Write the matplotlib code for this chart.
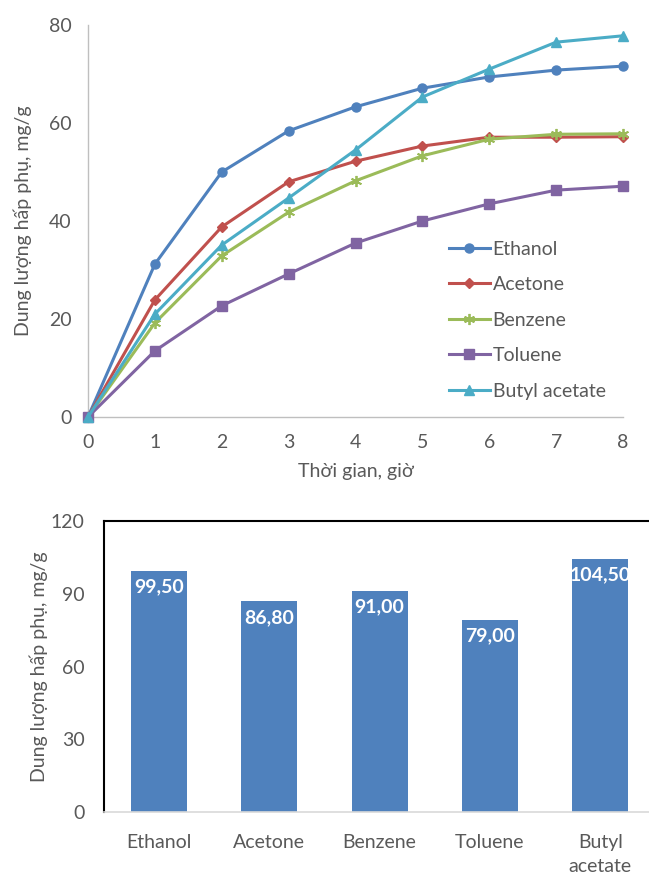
import matplotlib
matplotlib.use('Agg')
import matplotlib.pyplot as plt

plt.rcParams['font.family'] = ['Lato', 'Open Sans', 'DejaVu Sans']

# thoi gian (gio)
t = [0, 1, 2, 3, 4, 5, 6, 7, 8]
ethanol = [0, 31.2, 50.0, 58.4, 63.3, 67.1, 69.4, 70.8, 71.6]
acetone = [0, 23.9, 38.8, 48.0, 52.2, 55.3, 57.1, 57.1, 57.2]
benzene = [0, 19.2, 32.9, 41.8, 48.2, 53.3, 56.7, 57.7, 57.8]
toluene = [0, 13.5, 22.7, 29.2, 35.5, 40.0, 43.5, 46.3, 47.1]
butyl = [0, 21.0, 35.1, 44.7, 54.5, 65.3, 71.0, 76.5, 77.8]

dung_moi = ['Ethanol', 'Acetone', 'Benzene', 'Toluene', 'Butyl\nacetate']
dung_luong = [99.50, 86.80, 91.00, 79.00, 104.50]

text_color = '#595959'
axis_color = '#BFBFBF'

fig = plt.figure(figsize=(6.49, 8.77), dpi=100)

# ------------ do thi dong hoc hap phu ------------
ax1 = fig.add_axes([0.1356, 0.5245, 0.8244, 0.447])
series = [
    (ethanol, 'Ethanol', '#4F81BD', 'o', 6.5),
    (acetone, 'Acetone', '#C0504D', 'D', 5.5),
    (benzene, 'Benzene', '#9BBB59', (6, 2, 0), 8),
    (toluene, 'Toluene', '#8064A2', 's', 6.5),
    (butyl, 'Butyl acetate', '#4BACC6', '^', 7.5),
]
for y, lab, c, m, ms in series:
    ax1.plot(t, y, color=c, marker=m, markersize=ms, linewidth=2.2, label=lab,
             markeredgewidth=1.3 if m == (6, 2, 0) else 1, clip_on=False, zorder=3)

ax1.set_xlim(0, 8)
ax1.set_ylim(0, 80)
ax1.set_yticks([0, 20, 40, 60, 80])
ax1.set_xticks(t)
for s in ['top', 'right']:
    ax1.spines[s].set_visible(False)
for s in ['left', 'bottom']:
    ax1.spines[s].set_color(axis_color)
    ax1.spines[s].set_linewidth(1)
ax1.tick_params(length=0, labelsize=14, colors=text_color)
ax1.tick_params(axis='y', pad=12)
ax1.tick_params(axis='x', pad=12)
ax1.set_xlabel('Thời gian, giờ', fontsize=14, color=text_color, labelpad=9)
ax1.set_ylabel('Dung lượng hấp phụ, mg/g', fontsize=14, color=text_color, labelpad=12)
leg = ax1.legend(loc='lower right', bbox_to_anchor=(1.0, 0.0), frameon=False,
                 fontsize=14, handlelength=2.1, handletextpad=0.15, labelspacing=0.95)
for txt in leg.get_texts():
    txt.set_color(text_color)

# ------------ do thi dung luong hap phu cuc dai ------------
ax2 = fig.add_axes([0.160, 0.074, 0.85, 0.332])
x = range(len(dung_moi))
bars = ax2.bar(x, dung_luong, width=0.51, color='#4F81BD', zorder=2)
ax2.set_xlim(-0.5, 4.5)
ax2.set_ylim(0, 120)
ax2.set_yticks([0, 30, 60, 90, 120])
ax2.set_xticks(list(x))
ax2.set_xticklabels(dung_moi, linespacing=1.45)
for b, v in zip(bars, dung_luong):
    ax2.text(b.get_x() + b.get_width() / 2, v - 3, ('%.2f' % v).replace('.', ','),
             ha='center', va='top', color='white', fontsize=14, fontweight='bold')
ax2.spines['bottom'].set_color('#D9D9D9')
ax2.spines['bottom'].set_linewidth(1.2)
for s in ['left', 'top', 'right']:
    ax2.spines[s].set_color('black')
    ax2.spines[s].set_linewidth(1.5)
ax2.tick_params(length=0, labelsize=14, colors=text_color)
ax2.tick_params(axis='y', pad=14)
ax2.tick_params(axis='x', pad=16)
ax2.set_ylabel('Dung lượng hấp phụ, mg/g', fontsize=14, color=text_color, labelpad=2)

fig.savefig('out.png', dpi=100)
